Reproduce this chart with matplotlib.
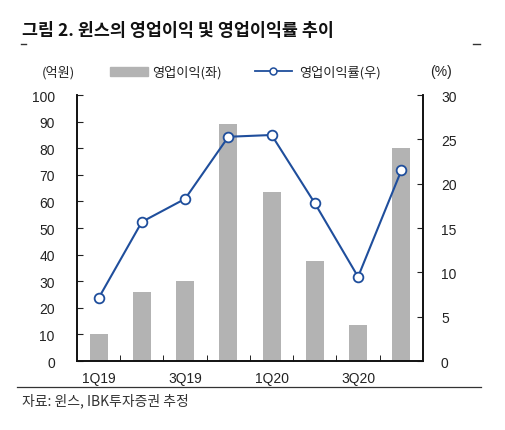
import matplotlib
matplotlib.use('AGG')
import matplotlib.pyplot as plt
from matplotlib.lines import Line2D
import numpy as np

plt.rcParams['font.family'] = ['Liberation Sans', 'Noto Sans CJK KR', 'DejaVu Sans']
KR = ['Noto Sans CJK KR', 'DejaVu Sans']

quarters = ['1Q19', '2Q19', '3Q19', '4Q19', '1Q20', '2Q20', '3Q20', '4Q20']
op_profit = [10, 26, 30, 89, 63.5, 37.5, 13.5, 80]      # 억원
op_margin = [7.1, 15.7, 18.3, 25.3, 25.5, 17.8, 9.5, 21.5]  # %
tick_labels = ['1Q19', '', '3Q19', '', '1Q20', '', '3Q20', '']

bar_color = '#b3b3b3'
line_color = '#1f4e9c'
text_color = '#222222'

fig = plt.figure(figsize=(5.05, 4.31), dpi=100)
ax = fig.add_axes([0.1525, 0.160, 0.685, 0.617])
ax2 = ax.twinx()

x = np.arange(len(quarters))
ax.bar(x, op_profit, width=0.42, color=bar_color, zorder=2)
ax2.plot(x, op_margin, color=line_color, lw=1.5, marker='o', ms=7,
         mfc='white', mec=line_color, mew=1.3, zorder=3)

ax.set_xlim(-0.5, len(quarters) - 0.5)
ax.set_ylim(0, 100)
ax2.set_ylim(0, 30)
ax.set_yticks(range(0, 101, 10))
ax2.set_yticks(range(0, 31, 5))

# category ticks between bars, labels under every other bar
ax.set_xticks(x)
ax.set_xticklabels(tick_labels)
ax.set_xticks(np.arange(0.5, len(quarters) - 0.5, 1), minor=True)
ax.tick_params(axis='x', which='major', length=0, pad=7,
               labelsize=10, colors=text_color)
ax.tick_params(axis='x', which='minor', direction='in', length=4)
ax.tick_params(axis='y', direction='in', length=4, pad=16,
               labelsize=10, colors=text_color)
ax2.tick_params(axis='y', direction='in', length=4, pad=13,
                labelsize=10, colors=text_color)

for a in (ax, ax2):
    a.spines['top'].set_visible(False)
    for s in ('left', 'right', 'bottom'):
        a.spines[s].set_linewidth(1.2)
        a.spines[s].set_color('#111111')

# title and decorations
fig.text(0.044, 0.929, '그림 2. 윈스의 영업이익 및 영업이익률 추이', fontsize=12.5,
         fontweight='bold', color='#111111', va='center', ha='left', family=KR)
fig.add_artist(Line2D([0.042, 0.052], [0.896, 0.896], color='#333333', lw=1))
fig.add_artist(Line2D([0.937, 0.950], [0.896, 0.896], color='#333333', lw=1))

# legend row
fig.text(0.083, 0.832, '(억원)', fontsize=9.5, color=text_color, va='center', family=KR)
fig.text(0.852, 0.832, '(%)', fontsize=10, color=text_color, va='center')
fig.add_artist(plt.Rectangle((0.218, 0.822), 0.075, 0.020, color=bar_color))
fig.text(0.302, 0.832, '영업이익(좌)', fontsize=9.5, color=text_color, va='center', family=KR)
fig.add_artist(Line2D([0.505, 0.578], [0.832, 0.832], color=line_color, lw=1.3))
fig.add_artist(Line2D([0.5415], [0.832], color=line_color, marker='o', ms=5,
                      mfc='white', mec=line_color, mew=1.1))
fig.text(0.593, 0.832, '영업이익률(우)', fontsize=9.5, color=text_color, va='center', family=KR)

# bottom rule and source
fig.add_artist(Line2D([0.034, 0.952], [0.099, 0.099], color='#333333', lw=0.9))
fig.text(0.044, 0.070, '자료: 윈스, IBK투자증권 추정', fontsize=10, color='#333333',
         va='center', ha='left', family=KR)

fig.savefig('out.png', dpi=100)
